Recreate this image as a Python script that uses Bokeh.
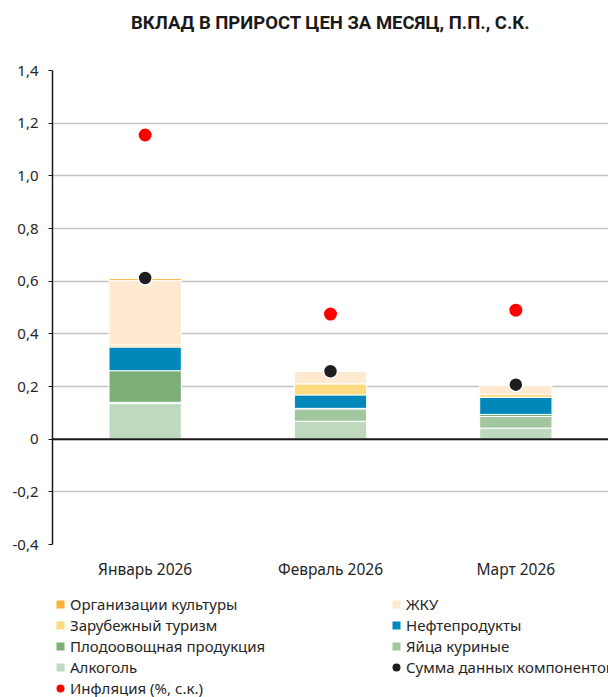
from bokeh.plotting import figure
from bokeh.layouts import column
from bokeh.models import (ColumnDataSource, FixedTicker, CustomJSTickFormatter, Span,
                          Legend, LegendItem, Range1d, Label)
from bokeh.embed import file_html
from bokeh.resources import INLINE

title_text = "ВКЛАД В ПРИРОСТ ЦЕН ЗА МЕСЯЦ, П.П., С.К."
months = ["Январь 2026", "Февраль 2026", "Март 2026"]
alcohol = [0.135, 0.068, 0.042]
eggs = [0.005, 0.047, 0.044]
fruit_veg = [0.12, 0.002, 0.008]
fuel = [0.09, 0.051, 0.065]
tourism = [0.008, 0.042, 0.011]
utilities = [0.245, 0.047, 0.034]
culture = [0.007, 0.0, 0.0]
sum_components = [0.612, 0.258, 0.207]
inflation = [1.155, 0.475, 0.49]

stack_keys = ["alcohol", "eggs", "fruit_veg", "fuel", "tourism", "utilities", "culture"]
stack_names = ["Алкоголь", "Яйца куриные", "Плодоовощная продукция", "Нефтепродукты",
               "Зарубежный туризм", "ЖКУ", "Организации культуры"]
stack_colors = ["#BED9BD", "#A2C79F", "#7BAF76", "#0088BB", "#FFDA7E", "#FFE9D1", "#F9B234"]
sum_color = "#1E1E1E"
infl_color = "#FF0000"
y_ticks = [-0.4, -0.2, 0.0, 0.2, 0.4, 0.6, 0.8, 1.0, 1.2, 1.4]

# legend layout (two columns, read row by row in the reference)
legend_col1 = ["Организации культуры", "Зарубежный туризм", "Плодоовощная продукция",
               "Алкоголь", "Инфляция (%, с.к.)"]
legend_col2 = ["ЖКУ", "Нефтепродукты", "Яйца куриные", "Сумма данных компонентов"]

source = ColumnDataSource(dict(month=months, alcohol=alcohol, eggs=eggs, fruit_veg=fruit_veg,
                               fuel=fuel, tourism=tourism, utilities=utilities, culture=culture,
                               total=sum_components, infl=inflation))

FONT = "Noto Sans"
TXT = "#262626"

# ---- title strip ----
tf = figure(width=608, height=44, x_range=Range1d(0, 1), y_range=Range1d(0, 1),
            output_backend="svg", toolbar_location=None,
            min_border_left=52, min_border_right=0, min_border_top=0, min_border_bottom=0)
tf.axis.visible = False
tf.grid.visible = False
tf.outline_line_color = None
tf.add_layout(Label(x=0.5, y=0.5, text=title_text, text_align="center",
                    text_baseline="middle", text_font="Roboto", text_font_style="bold",
                    text_font_size="18.5px", text_color="#1a1a1a"))

# ---- main chart ----
p = figure(x_range=months, y_range=(-0.4, 1.4), width=608, height=546,
           output_backend="svg", toolbar_location=None,
           min_border_left=52, min_border_right=0, min_border_top=26, min_border_bottom=46)
p.outline_line_color = None

bars = p.vbar_stack(stack_keys, x="month", width=0.39, source=source, color=stack_colors,
                    line_color="white", line_width=1)

zero = Span(location=0, dimension="width", line_color="#1a1a1a", line_width=2)
p.add_layout(zero)

p.scatter(x="month", y="total", source=source, size=14, color=sum_color,
          line_color="white", line_width=1.5)
p.scatter(x="month", y="infl", source=source, size=13, color=infl_color, line_color=None)

p.xaxis.axis_line_color = None
p.xaxis.major_tick_line_color = None
p.xaxis.minor_tick_line_color = None
p.xaxis.major_label_text_font = FONT
p.xaxis.major_label_text_font_size = "15.5px"
p.xaxis.major_label_text_color = TXT
p.xaxis.major_label_standoff = 7
p.xgrid.grid_line_color = None

p.yaxis.ticker = FixedTicker(ticks=y_ticks)
p.yaxis.formatter = CustomJSTickFormatter(code="""
    if (Math.abs(tick) < 1e-9) { return '0'; }
    return tick.toFixed(1).replace('.', ',');
""")
p.yaxis.axis_line_color = "#1a1a1a"
p.yaxis.axis_line_width = 1.5
p.yaxis.major_tick_line_color = "#1a1a1a"
p.yaxis.major_tick_in = 0
p.yaxis.major_tick_out = 4
p.yaxis.minor_tick_line_color = None
p.yaxis.major_label_text_font = FONT
p.yaxis.major_label_text_font_size = "15px"
p.yaxis.major_label_text_color = TXT
p.yaxis.major_label_standoff = 10
p.ygrid.ticker = FixedTicker(ticks=y_ticks)
p.ygrid.grid_line_color = "#C4C4C4"
p.ygrid.grid_line_width = 1.5

# ---- legend strip ----
lf = figure(width=608, height=107, x_range=Range1d(0, 1), y_range=Range1d(0, 1),
            output_backend="svg", toolbar_location=None,
            min_border_left=52, min_border_right=0, min_border_top=0, min_border_bottom=0)
lf.axis.visible = False
lf.grid.visible = False
lf.outline_line_color = None

proxy_style = {}
for name, col in zip(stack_names, stack_colors):
    proxy_style[name] = dict(marker="square", color=col)
proxy_style["Сумма данных компонентов"] = dict(marker="circle", color=sum_color)
proxy_style["Инфляция (%, с.к.)"] = dict(marker="circle", color=infl_color)

proxies = {}
for name, st in proxy_style.items():
    proxies[name] = lf.scatter(x=[0.5], y=[float("nan")], marker=st["marker"],
                               fill_color=st["color"], line_color=None)


def make_legend(names, x, y):
    return Legend(items=[LegendItem(label=n, renderers=[proxies[n]]) for n in names],
                  location=(x, y), orientation="vertical",
                  glyph_width=20, glyph_height=20, label_height=21,
                  label_standoff=-1, spacing=0, padding=0, margin=0,
                  label_text_font=FONT, label_text_font_size="15px",
                  label_text_color=TXT, border_line_color=None,
                  background_fill_alpha=0)


lf.add_layout(make_legend(legend_col1, -2, -1))
lf.add_layout(make_legend(legend_col2, 334, 20))

layout = column(tf, p, lf, spacing=0)
open("out.html", "w").write(file_html(layout, INLINE))
